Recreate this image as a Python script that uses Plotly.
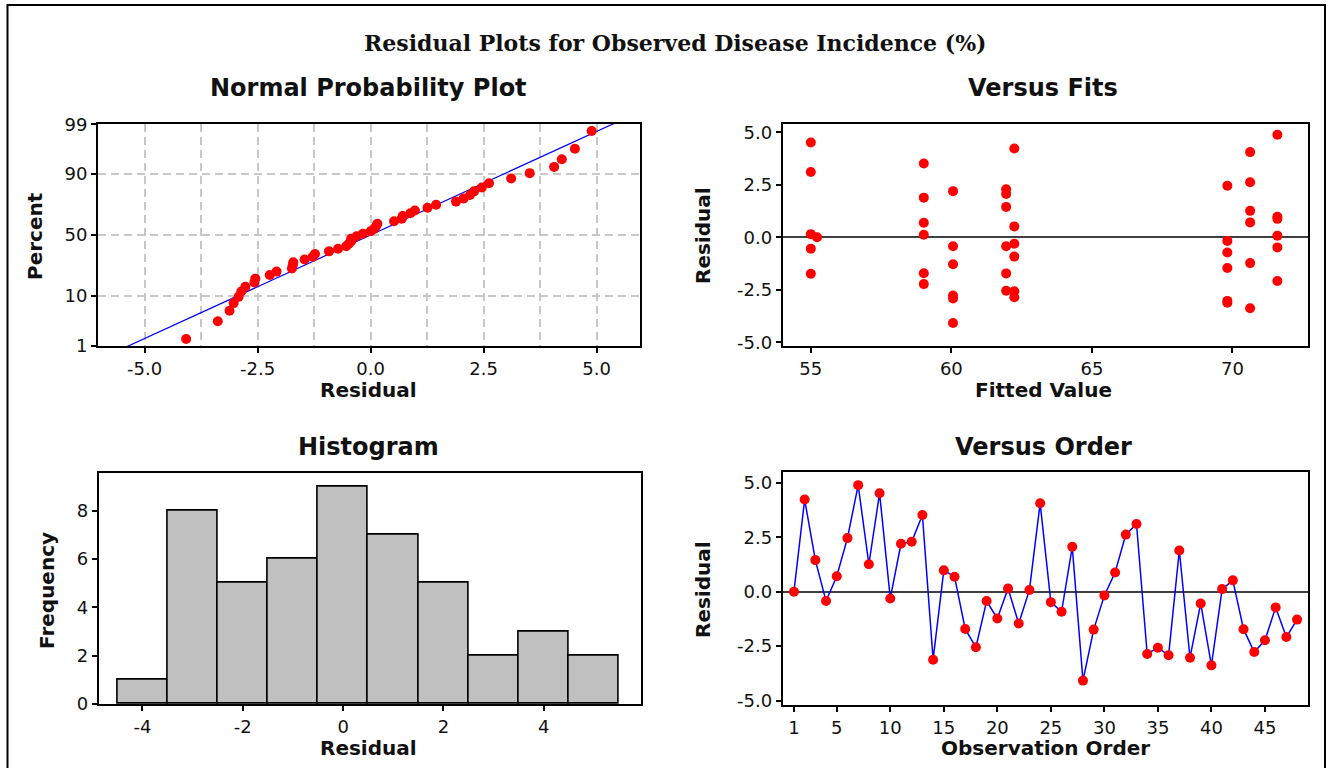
import plotly.graph_objects as go
from statistics import NormalDist, mean, stdev

# Residuals in observation order
observation = list(range(1, 49))
residuals = [0.00, 4.23, 1.45, -0.43, 0.71, 2.46, 4.89, 1.26, 4.52, -0.31,
             2.20, 2.29, 3.52, -3.12, 0.98, 0.69, -1.71, -2.55, -0.43, -1.23,
             0.15, -1.46, 0.08, 4.06, -0.48, -0.92, 2.06, -4.08, -1.74, -0.17,
             0.88, 2.62, 3.11, -2.86, -2.57, -2.92, 1.89, -3.03, -0.54, -3.38,
             0.12, 0.52, -1.72, -2.77, -2.23, -0.72, -2.08, -1.28]
# Fitted values for each observation
fitted = [55.22, 62.24, 61.95, 60.06, 70.63, 69.82, 71.60, 70.63, 55.00, 62.24,
          60.06, 61.95, 59.02, 69.82, 71.60, 59.02, 59.02, 61.95, 61.95, 70.63,
          55.00, 69.82, 71.60, 70.63, 71.60, 62.24, 61.95, 60.06, 55.00, 69.82,
          71.60, 70.63, 55.00, 62.24, 62.24, 60.06, 59.02, 69.82, 55.00, 70.63,
          59.02, 62.24, 61.95, 60.06, 59.02, 69.82, 71.60, 60.06]

percent_ticks = [1, 10, 50, 90, 99]
resid_ticks = [-5.0, -2.5, 0.0, 2.5, 5.0]
fit_ticks = [55, 60, 65, 70]
order_ticks = [1, 5, 10, 15, 20, 25, 30, 35, 40, 45]
hist_x_ticks = [-4, -2, 0, 2, 4]
hist_y_ticks = [0, 2, 4, 6, 8]

W, H = 1333, 768
TICK_FONT = dict(family="DejaVu Sans", size=18, color="#111111")
TITLE_FONT = dict(family="DejaVu Sans", size=24, color="#111111")
AXTITLE_FONT = dict(family="DejaVu Sans", size=20, color="#111111")
RED = "#FF0000"
BLUE = "#0000FF"


def px_x(p):
    return p / W


def px_y(p):
    return 1 - p / H


def fmt(v, digits=1):
    # plain hyphen for negative tick labels
    return f"{v:.{digits}f}".replace("\u2212", "-")


# normal probability scores (median ranks)
nd = NormalDist()
n = len(residuals)
sorted_res = sorted(residuals)
z_pts = [nd.inv_cdf((i - 0.3) / (n + 0.4)) for i in range(1, n + 1)]
mu, sd = mean(residuals), stdev(residuals)
z_line = [nd.inv_cdf(p) for p in (0.005, 0.995)]
x_line = [mu + sd * z for z in z_line]
z_ticks = [nd.inv_cdf(p / 100) for p in percent_ticks]

fig = go.Figure()

# Normal probability plot
fig.add_trace(go.Scatter(x=x_line, y=z_line, mode="lines",
                         line=dict(color=BLUE, width=1.2),
                         xaxis="x", yaxis="y", hoverinfo="skip"))
fig.add_trace(go.Scatter(x=sorted_res, y=z_pts, mode="markers",
                         marker=dict(color=RED, size=10),
                         xaxis="x", yaxis="y"))

# Versus fits
fig.add_trace(go.Scatter(x=fitted, y=residuals, mode="markers",
                         marker=dict(color=RED, size=10),
                         xaxis="x2", yaxis="y2"))

# Histogram
fig.add_trace(go.Histogram(x=residuals, xbins=dict(start=-4.5, end=5.5, size=1),
                           marker=dict(color="#C0C0C0", line=dict(color="black", width=1.6)),
                           xaxis="x3", yaxis="y3"))

# Versus order
fig.add_trace(go.Scatter(x=observation, y=residuals, mode="lines+markers",
                         line=dict(color=BLUE, width=1.5),
                         marker=dict(color=RED, size=10),
                         xaxis="x4", yaxis="y4"))

axis_common = dict(showline=True, linecolor="black", linewidth=2, mirror=True,
                   ticks="outside", ticklen=5, tickwidth=1.5, tickcolor="black",
                   tickfont=TICK_FONT, showgrid=False, zeroline=False, automargin=False)

grid_dash = "8px,5px"

fig.update_layout(
    width=W, height=H,
    margin=dict(l=0, r=0, t=0, b=0, pad=0, autoexpand=False),
    paper_bgcolor="white", plot_bgcolor="white",
    showlegend=False, bargap=0,
    xaxis=dict(axis_common, domain=[px_x(98), px_x(640)], anchor="y",
               range=[-6.03, 5.96], tickvals=resid_ticks,
               ticktext=[fmt(v) for v in resid_ticks],
               showgrid=True, gridcolor="#C8C8C8", gridwidth=1.5, griddash=grid_dash,
               minor=dict(dtick=1.25, tick0=0, showgrid=True, gridcolor="#C8C8C8",
                          gridwidth=1.5, griddash=grid_dash, ticks="")),
    yaxis=dict(axis_common, domain=[px_y(346), px_y(124)], anchor="x",
               range=[z_ticks[0] - 0.004, z_ticks[-1] + 0.004],
               tickvals=z_ticks, ticktext=[str(p) for p in percent_ticks],
               showgrid=True, gridcolor="#C8C8C8", gridwidth=1.5, griddash=grid_dash),
    xaxis2=dict(axis_common, domain=[px_x(782.7), px_x(1308.3)], anchor="y2",
                range=[54.0, 72.7], tickvals=fit_ticks),
    yaxis2=dict(axis_common, domain=[px_y(346), px_y(124)], anchor="x2",
                range=[-5.18, 5.4], tickvals=resid_ticks,
                ticktext=[fmt(v) for v in resid_ticks],
                zeroline=True, zerolinecolor="#404040", zerolinewidth=1.5),
    xaxis3=dict(axis_common, domain=[px_x(98.7), px_x(640.7)], anchor="y3",
                range=[-4.87, 5.93], tickvals=hist_x_ticks,
                ticktext=[fmt(v, 0) for v in hist_x_ticks]),
    yaxis3=dict(axis_common, domain=[px_y(704), px_y(472.7)], anchor="x3",
                range=[0, 9.57], tickvals=hist_y_ticks),
    xaxis4=dict(axis_common, domain=[px_x(782.7), px_x(1308.3)], anchor="y4",
                range=[-0.05, 49.05], tickvals=order_ticks),
    yaxis4=dict(axis_common, domain=[px_y(705), px_y(472.3)], anchor="x4",
                range=[-5.2, 5.48], tickvals=resid_ticks,
                ticktext=[fmt(v) for v in resid_ticks],
                zeroline=True, zerolinecolor="#404040", zerolinewidth=1.5),
)

# outer frame
fig.add_shape(type="rect", xref="paper", yref="paper",
              x0=px_x(7.5), x1=px_x(1325), y0=-0.05, y1=px_y(5),
              line=dict(color="black", width=2), fillcolor="rgba(0,0,0,0)", layer="above")


def label(text, x, y, font, angle=0):
    fig.add_annotation(text=text, x=px_x(x), y=px_y(y), xref="paper", yref="paper",
                       showarrow=False, xanchor="center", yanchor="middle",
                       textangle=angle, font=font)


label("<b>Residual Plots for Observed Disease Incidence (%)</b>", 676, 43,
      dict(family="DejaVu Serif", size=22, color="#111111"))
label("<b>Normal Probability Plot</b>", 368, 88, TITLE_FONT)
label("<b>Versus Fits</b>", 1043, 88, TITLE_FONT)
label("<b>Histogram</b>", 368, 447, TITLE_FONT)
label("<b>Versus Order</b>", 1043, 447, TITLE_FONT)

label("<b>Residual</b>", 368, 390, AXTITLE_FONT)
label("<b>Percent</b>", 35, 236, AXTITLE_FONT, -90)
label("<b>Fitted Value</b>", 1043, 390, AXTITLE_FONT)
label("<b>Residual</b>", 703, 236, AXTITLE_FONT, -90)
label("<b>Residual</b>", 368, 748, AXTITLE_FONT)
label("<b>Frequency</b>", 47, 590, AXTITLE_FONT, -90)
label("<b>Observation Order</b>", 1045, 748, AXTITLE_FONT)
label("<b>Residual</b>", 703, 590, AXTITLE_FONT, -90)

fig.write_html("out.html")
